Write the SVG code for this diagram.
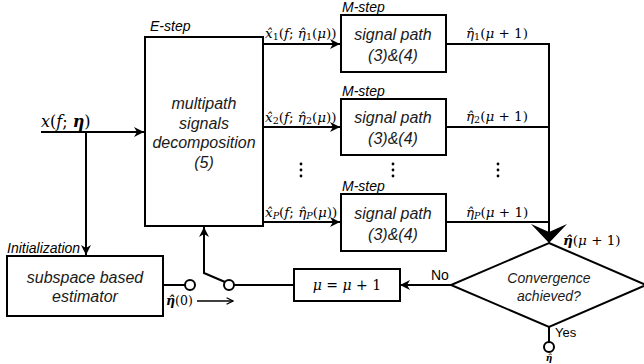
<svg xmlns="http://www.w3.org/2000/svg" width="644" height="364" viewBox="0 0 644 364">
<style>
.box{fill:#fff;stroke:#000;stroke-width:2}
.ln{fill:none;stroke:#000;stroke-width:2}
.t{font-family:"Liberation Sans",Arial,sans-serif;font-style:italic;font-size:16px;fill:#1a1a1a;text-anchor:middle}
.t14{font-size:14px}
.lab{font-family:"Liberation Sans",Arial,sans-serif;font-style:italic;font-size:14px;fill:#000}
.pl{font-family:"Liberation Sans",Arial,sans-serif;font-size:14px;fill:#000}
.m{font-family:"DejaVu Serif","Liberation Serif",serif;font-size:13.5px;fill:#000}
.m16{font-size:16px}
.mi{font-style:italic}
.b{font-weight:bold}
.s{font-size:9.5px}
.dot{fill:#000}
</style>
<defs>
<marker id="ah" viewBox="0 0 10 10" refX="10" refY="5" markerWidth="5" markerHeight="5" orient="auto" markerUnits="strokeWidth">
<path d="M0,0 L10,5 L0,10 L3,5 z" fill="#000"/>
</marker>
<marker id="oh" viewBox="0 0 10 10" refX="9" refY="5" markerWidth="5" markerHeight="5" orient="auto" markerUnits="strokeWidth">
<path d="M1,1 L9,5 L1,9" fill="none" stroke="#000" stroke-width="1.6"/>
</marker>
</defs>

<g id="connectors">
<line class="ln" x1="41" y1="132" x2="144" y2="132" marker-end="url(#ah)"/>
<line class="ln" x1="86" y1="132" x2="86" y2="255" marker-end="url(#ah)"/>
<line class="ln" x1="263" y1="44" x2="340" y2="44" marker-end="url(#ah)"/>
<line class="ln" x1="263" y1="127" x2="340" y2="127" marker-end="url(#ah)"/>
<line class="ln" x1="263" y1="222" x2="340" y2="222" marker-end="url(#ah)"/>
<polyline class="ln" points="446,44 549,44 549,232"/>
<line class="ln" x1="446" y1="127" x2="549" y2="127"/>
<line class="ln" x1="446" y1="222" x2="549" y2="222"/>
<path d="M549,243 L531,224 L549,232 L567,224 Z" fill="#000"/>
<line class="ln" x1="451" y1="285" x2="400" y2="285" marker-end="url(#ah)"/>
<line class="ln" x1="293" y1="285" x2="234" y2="285"/>
<line class="ln" x1="163" y1="285" x2="185" y2="285"/>
<polyline class="ln" points="225,282 204,273 204,227" marker-end="url(#ah)"/>
<line class="ln" x1="197" y1="301" x2="233" y2="301" marker-end="url(#oh)" style="stroke-width:1.6"/>
<line class="ln" x1="549" y1="327" x2="549" y2="342"/>
<circle cx="190" cy="285" r="5" fill="#fff" stroke="#000" stroke-width="2"/>
<circle cx="229" cy="285" r="5" fill="#fff" stroke="#000" stroke-width="2"/>
<circle cx="549" cy="347" r="5" fill="#fff" stroke="#000" stroke-width="2"/>
</g>

<g id="input-label">
<text class="m m16" x="41" y="127"><tspan class="mi">x</tspan>(<tspan class="mi">f</tspan>; <tspan class="b mi">η</tspan>)</text>
</g>

<g id="estep">
<rect class="box" x="145" y="37" width="118" height="189"/>
<text class="lab" x="150" y="31">E-step</text>
<text class="t" x="204" y="109">multipath</text>
<text class="t" x="204" y="129">signals</text>
<text class="t" x="204" y="148">decomposition</text>
<text class="t" x="204" y="168">(5)</text>
</g>

<g id="estep-outputs">
<text class="m" x="265" y="38"><tspan class="mi">x̂</tspan><tspan class="s" dy="2">1</tspan><tspan dy="-2">(</tspan><tspan class="mi">f</tspan>; <tspan class="mi">η̂</tspan><tspan class="s" dy="2">1</tspan><tspan dy="-2">(</tspan><tspan class="mi">μ</tspan>))</text>
<text class="m" x="265" y="122"><tspan class="mi">x̂</tspan><tspan class="s" dy="2">2</tspan><tspan dy="-2">(</tspan><tspan class="mi">f</tspan>; <tspan class="mi">η̂</tspan><tspan class="s" dy="2">2</tspan><tspan dy="-2">(</tspan><tspan class="mi">μ</tspan>))</text>
<text class="m" x="265" y="217"><tspan class="mi">x̂</tspan><tspan class="s mi" dy="2">P</tspan><tspan dy="-2">(</tspan><tspan class="mi">f</tspan>; <tspan class="mi">η̂</tspan><tspan class="s mi" dy="2">P</tspan><tspan dy="-2">(</tspan><tspan class="mi">μ</tspan>))</text>
</g>

<g id="mstep1">
<rect class="box" x="341" y="15" width="105" height="57"/>
<text class="lab" x="342" y="12">M-step</text>
<text class="t" x="393" y="40">signal path</text>
<text class="t" x="393" y="61">(3)&amp;(4)</text>
</g>
<g id="mstep2">
<rect class="box" x="341" y="99" width="105" height="56"/>
<text class="lab" x="342" y="96">M-step</text>
<text class="t" x="393" y="123">signal path</text>
<text class="t" x="393" y="144">(3)&amp;(4)</text>
</g>
<g id="mstep3">
<rect class="box" x="341" y="194" width="105" height="57"/>
<text class="lab" x="342" y="191">M-step</text>
<text class="t" x="393" y="219">signal path</text>
<text class="t" x="393" y="240">(3)&amp;(4)</text>
</g>

<g id="mstep-outputs">
<text class="m" x="466" y="38"><tspan class="mi">η̂</tspan><tspan class="s" dy="2">1</tspan><tspan dy="-2">(</tspan><tspan class="mi">μ</tspan> + 1)</text>
<text class="m" x="466" y="121"><tspan class="mi">η̂</tspan><tspan class="s" dy="2">2</tspan><tspan dy="-2">(</tspan><tspan class="mi">μ</tspan> + 1)</text>
<text class="m" x="466" y="217"><tspan class="mi">η̂</tspan><tspan class="s mi" dy="2">P</tspan><tspan dy="-2">(</tspan><tspan class="mi">μ</tspan> + 1)</text>
<text class="m" x="563" y="245"><tspan class="b mi">η̂</tspan>(<tspan class="mi">μ</tspan> + 1)</text>
</g>

<g id="dots">
<circle class="dot" cx="301" cy="164" r="1.4"/><circle class="dot" cx="301" cy="170" r="1.4"/><circle class="dot" cx="301" cy="176" r="1.4"/>
<circle class="dot" cx="393" cy="164" r="1.4"/><circle class="dot" cx="393" cy="170" r="1.4"/><circle class="dot" cx="393" cy="176" r="1.4"/>
<circle class="dot" cx="498" cy="164" r="1.4"/><circle class="dot" cx="498" cy="170" r="1.4"/><circle class="dot" cx="498" cy="176" r="1.4"/>
</g>

<g id="init">
<rect class="box" x="7" y="256" width="156" height="60"/>
<text class="lab" x="7" y="253">Initialization</text>
<text class="t" x="85" y="283">subspace based</text>
<text class="t" x="85" y="302">estimator</text>
<text class="m" x="166" y="305" style="font-size:12.5px"><tspan class="b mi">η̂</tspan>(0)</text>
</g>

<g id="update">
<rect class="box" x="294" y="269" width="106" height="32"/>
<text class="m" x="347" y="290" style="text-anchor:middle;font-size:14px"><tspan class="mi">μ</tspan> = <tspan class="mi">μ</tspan> + 1</text>
</g>

<g id="convergence">
<polygon class="box" points="549,243 646,285 549,327 451,285"/>
<text class="t t14" x="549" y="283">Convergence</text>
<text class="t t14" x="549" y="301">achieved?</text>
<text class="pl" x="431" y="280">No</text>
<text class="pl" x="555" y="337" style="font-size:13px">Yes</text>
<text class="m" x="549" y="361" style="text-anchor:middle;font-size:9px"><tspan class="b mi">η̂</tspan></text>
</g>
</svg>
